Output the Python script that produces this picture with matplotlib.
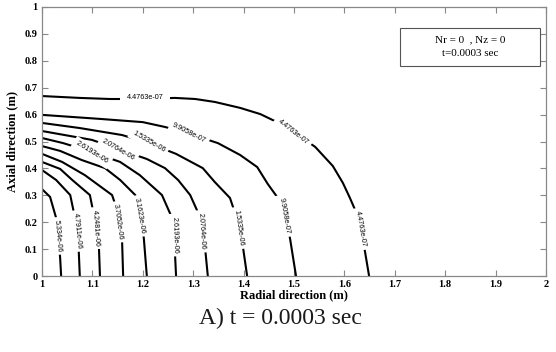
import matplotlib
matplotlib.use("Agg")
import matplotlib.pyplot as plt
from matplotlib.patches import Rectangle

# ---------------- data ----------------
levels = ["4.4763e-07", "9.9058e-07", "1.5335e-06", "2.0764e-06", "2.6193e-06",
          "3.1623e-06", "3.7052e-06", "4.2481e-06", "4.7911e-06", "5.334e-06"]

r_L1 = [1.000, 1.075, 1.135, 1.194, 1.264, 1.304, 1.343, 1.393, 1.433, 1.462, 1.502, 1.542, 1.577, 1.597, 1.611, 1.623, 1.633, 1.641, 1.649]
z_L1 = [0.669, 0.662, 0.658, 0.658, 0.662, 0.658, 0.647, 0.625, 0.602, 0.576, 0.532, 0.480, 0.409, 0.346, 0.290, 0.238, 0.164, 0.089, 0.000]

r_L2 = [1.000, 1.115, 1.200, 1.244, 1.294, 1.349, 1.393, 1.427, 1.448, 1.468, 1.480, 1.492, 1.504]
z_L2 = [0.599, 0.584, 0.572, 0.554, 0.528, 0.494, 0.450, 0.405, 0.342, 0.290, 0.227, 0.141, 0.000]

r_L3 = [1.000, 1.075, 1.159, 1.212, 1.266, 1.319, 1.343, 1.373, 1.381, 1.389, 1.399, 1.407]
z_L3 = [0.569, 0.550, 0.524, 0.494, 0.454, 0.401, 0.349, 0.290, 0.245, 0.178, 0.104, 0.000]

r_L4 = [1.000, 1.099, 1.151, 1.208, 1.244, 1.270, 1.294, 1.310, 1.317, 1.323, 1.329]
z_L4 = [0.539, 0.506, 0.472, 0.435, 0.401, 0.357, 0.301, 0.234, 0.171, 0.115, 0.000]

r_L5 = [1.000, 1.042, 1.099, 1.155, 1.194, 1.238, 1.258, 1.262, 1.264, 1.266]
z_L5 = [0.513, 0.494, 0.461, 0.424, 0.375, 0.301, 0.216, 0.152, 0.078, 0.000]

r_L6 = [1.000, 1.036, 1.079, 1.125, 1.155, 1.185, 1.190, 1.196, 1.202, 1.208]
z_L6 = [0.483, 0.465, 0.431, 0.401, 0.357, 0.301, 0.264, 0.201, 0.141, 0.000]

r_L7 = [1.000, 1.040, 1.085, 1.139, 1.147, 1.153, 1.159, 1.161]
z_L7 = [0.454, 0.424, 0.375, 0.301, 0.257, 0.201, 0.123, 0.000]

r_L8 = [1.000, 1.036, 1.060, 1.095, 1.101, 1.107, 1.113, 1.115]
z_L8 = [0.424, 0.398, 0.357, 0.301, 0.245, 0.171, 0.104, 0.000]

r_L9 = [1.000, 1.028, 1.056, 1.063, 1.069, 1.073, 1.075]
z_L9 = [0.394, 0.357, 0.301, 0.238, 0.164, 0.089, 0.000]

r_L10 = [1.000, 1.016, 1.028, 1.032, 1.036, 1.038]
z_L10 = [0.323, 0.294, 0.216, 0.152, 0.067, 0.000]

x_ticks = [1, 1.1, 1.2, 1.3, 1.4, 1.5, 1.6, 1.7, 1.8, 1.9, 2]
x_tick_labels = ["1", "1.1", "1.2", "1.3", "1.4", "1.5", "1.6", "1.7", "1.8", "1.9", "2"]
y_ticks = [0, 0.1, 0.2, 0.3, 0.4, 0.5, 0.6, 0.7, 0.8, 0.9, 1]
y_tick_labels = ["0", "0.1", "0.2", "0.3", "0.4", "0.5", "0.6", "0.7", "0.8", "0.9", "1"]

# ---------------- figure ----------------
fig = plt.figure(figsize=(5.56, 3.52), dpi=100)
ax = fig.add_axes([42/556, 1-276/352, (546-42)/556, (276-7)/352])

contours = [(r_L1, z_L1), (r_L2, z_L2), (r_L3, z_L3), (r_L4, z_L4), (r_L5, z_L5),
            (r_L6, z_L6), (r_L7, z_L7), (r_L8, z_L8), (r_L9, z_L9), (r_L10, z_L10)]
for r, z in contours:
    ax.plot(r, z, color="black", lw=1.5, solid_joinstyle="miter", zorder=2)

# inline labels: (level index, r, z, rotation, pad)
label_spots = [
    (0, 1.204, 0.662, 0, 0.9), (0, 1.498, 0.535, -38, 0.5), (0, 1.633, 0.175, -80, 0.4),
    (1, 1.292, 0.530, -27, 0.4), (1, 1.481, 0.223, -80, 0.4),
    (2, 1.212, 0.498, -30, 0.4), (2, 1.389, 0.178, -82, 0.4),
    (3, 1.151, 0.470, -30, 0.4), (3, 1.317, 0.166, -86, 0.4),
    (4, 1.099, 0.459, -32, 0.4), (4, 1.263, 0.152, -88, 0.4),
    (5, 1.193, 0.223, -80, 0.35),
    (6, 1.151, 0.201, -82, 0.35),
    (7, 1.107, 0.178, -86, 0.35),
    (8, 1.069, 0.167, -84, 0.35),
    (9, 1.032, 0.149, -85, 0.35),
]
for idx, r, z, rot, pad in label_spots:
    ax.text(r, z, levels[idx], fontsize=5.2, family="Liberation Sans",
            rotation=rot, rotation_mode="anchor", ha="center", va="center",
            zorder=3,
            bbox=dict(boxstyle=f"square,pad={pad}", fc="white", ec="none"))

ax.set_xlim(1, 2)
ax.set_ylim(0, 1)
ax.set_xticks(x_ticks)
ax.set_xticklabels(x_tick_labels)
ax.set_yticks(y_ticks)
ax.set_yticklabels(y_tick_labels)
ax.tick_params(direction="in", length=4, width=0.8, color="#888888",
               top=True, right=True, labelsize=7.5, pad=3)
for lab in ax.get_xticklabels() + ax.get_yticklabels():
    lab.set_fontfamily("Liberation Serif")
    lab.set_fontweight("bold")
for sp in ax.spines.values():
    sp.set_color("#888888")
    sp.set_linewidth(0.9)

ax.set_xlabel("Radial direction (m)", family="Liberation Serif", fontweight="bold",
              fontsize=9, labelpad=0)
ax.set_ylabel("Axial direction (m)", family="Liberation Serif", fontweight="bold",
              fontsize=9, labelpad=5)

# annotation box
box = Rectangle((400/556, 1-66/352), 140/556, 38/352, transform=fig.transFigure,
                fill=False, ec="#555555", lw=0.8)
fig.patches.append(box)
fig.text(470/556, 1-40/352, "Nr = 0  , Nz = 0", family="Liberation Serif",
         fontsize=8, ha="center", va="center")
fig.text(470/556, 1-54/352, "t=0.0003 sec", family="Liberation Serif",
         fontsize=8, ha="center", va="center")

# caption
fig.text(280/556, 1-318/352, "A) t = 0.0003 sec", family="Liberation Serif",
         fontsize=17, ha="center", va="center", color="#1a1a1a")

fig.savefig("out.png", dpi=100, facecolor="white")
